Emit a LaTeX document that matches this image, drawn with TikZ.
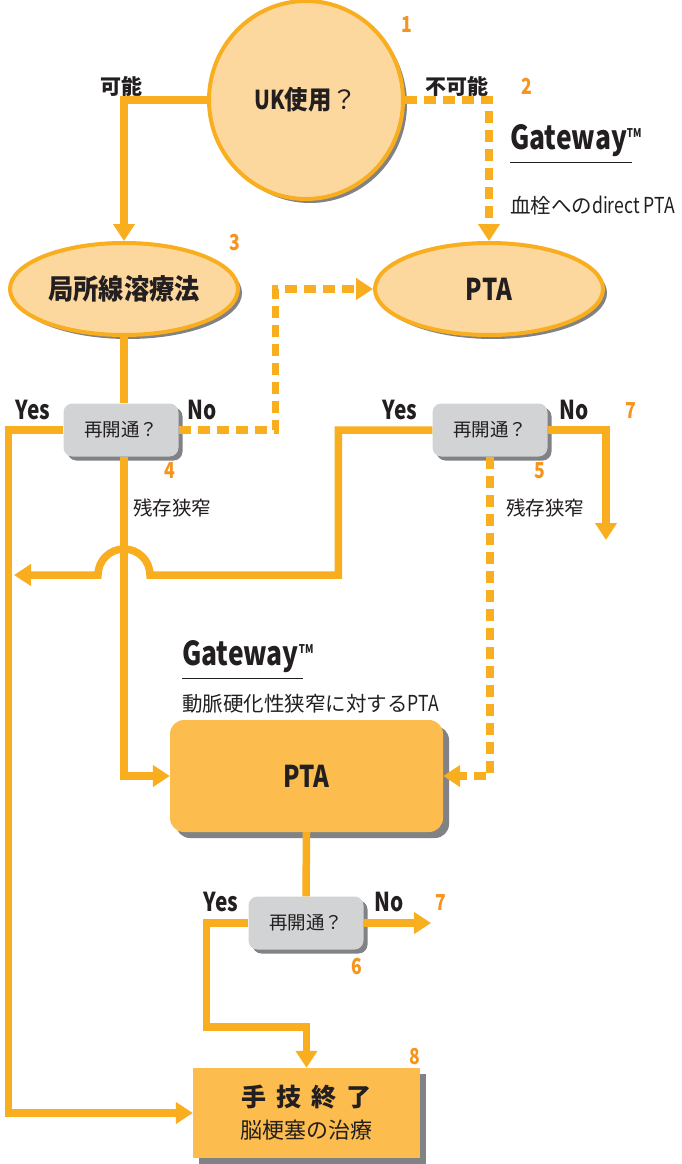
\documentclass[tikz,border=0pt]{standalone}
\usepackage{fontspec}
\setmainfont{Noto Sans CJK JP}
\newfontfamily\cond{Noto Sans CJK JP}[FakeStretch=0.8]
\newfontfamily\semicond{Noto Sans CJK JP}[FakeStretch=0.9]
\usetikzlibrary{shapes.geometric,arrows.meta,shadows}
\definecolor{lineor}{HTML}{F9AE1F}
\definecolor{ellfill}{HTML}{FDD89E}
\definecolor{boxfill}{HTML}{FCBD4E}
\definecolor{qfill}{HTML}{D1D3D4}
\definecolor{shadowgray}{HTML}{808285}
\definecolor{numor}{HTML}{F7941E}
\definecolor{ink}{HTML}{231F20}
\begin{document}
\begin{tikzpicture}[x=1pt,y=-1pt,
  >={Triangle[length=17pt,width=21pt]},
  conn/.style={draw=lineor,line width=7.5pt},
  dconn/.style={conn,dash pattern=on 12pt off 7pt},
  ell/.style={ellipse,draw=lineor,line width=4pt,fill=ellfill,inner sep=0pt,text=ink,
    drop shadow={shadow xshift=4pt,shadow yshift=-4pt,fill=shadowgray,opacity=1}},
  qbox/.style={rectangle,rounded corners=9pt,fill=qfill,minimum width=115pt,minimum height=53pt,
    inner sep=0pt,text=ink,font=\fontsize{18.5}{20}\selectfont,
    drop shadow={shadow xshift=4pt,shadow yshift=-4pt,fill=shadowgray,opacity=1}},
  lab/.style={text=ink,font=\cond\bfseries\fontsize{26}{28}\selectfont,inner sep=0pt},
  jlab/.style={text=ink,font=\bfseries\fontsize{21}{24}\selectfont,inner sep=0pt},
  num/.style={text=numor,font=\cond\bfseries\fontsize{22}{24}\selectfont,inner sep=0pt},
  note/.style={text=ink,font=\fontsize{19.5}{22}\selectfont,inner sep=0pt,anchor=west},
  gnote/.style={note,font=\fontsize{20.5}{22}\selectfont},
  gw/.style={text=ink,font=\cond\bfseries\fontsize{33}{35}\selectfont,inner sep=0pt,anchor=south west}
]
\useasboundingbox (0,0) rectangle (682,1164);
\fill[white] (0,0) rectangle (682,1164);

% nodes
\node[ell,minimum width=194pt,minimum height=198pt,font=\fontsize{26}{28}\selectfont] (uk) at (306,100)
  {{\bfseries\cond UK}{\bfseries\semicond 使用}？};
\node[ell,minimum width=228pt,minimum height=92pt,font=\bfseries\semicond\fontsize{28}{30}\selectfont] (lys) at (124,289) {局所線溶療法};
\node[ell,minimum width=228pt,minimum height=92pt,font=\bfseries\cond\fontsize{30}{32}\selectfont] (pta1) at (489,289) {PTA};
\node[qbox] (q1) at (121,430) {再開通？};
\node[qbox] (q2) at (490,430) {再開通？};
\node[rectangle,rounded corners=14pt,fill=boxfill,minimum width=273pt,minimum height=112pt,
  text=ink,font=\bfseries\cond\fontsize{30}{32}\selectfont,
  drop shadow={shadow xshift=6pt,shadow yshift=-6pt,fill=shadowgray,opacity=1}] (pta2) at (306.5,776) {PTA};
\node[qbox] (q3) at (306,923) {再開通？};
\node[rectangle,fill=boxfill,minimum width=227pt,minimum height=90pt,text=ink,align=center,inner sep=0pt,
  drop shadow={shadow xshift=6pt,shadow yshift=-6pt,fill=shadowgray,opacity=1}] (end) at (306.5,1113)
  {{\bfseries\fontsize{25}{28}\selectfont 手\hspace{10pt}技\hspace{10pt}終\hspace{10pt}了}\\[10pt]
   {\fontsize{22}{24}\selectfont 脳梗塞の治療}};

\coordinate (no2end) at (606,540);
\coordinate (yes2end) at (14,575);
\coordinate (no3end) at (431,923);

% connectors
\draw[conn,->] (uk.west) -| (lys.north);
\draw[dconn,->] (uk.east) -| (pta1.north);
\draw[conn] (lys.south) -- (q1.north -| lys.south);
\draw[dconn,->] (q1.east) -- ++(97,0) |- (pta1.west);
\draw[conn,->] (q1.south -| lys.south) |- (pta2.west);
\draw[conn,->] (q1.west) -- ++(-55,0) |- (end.west);
\draw[conn,->] (q2.west) -- ++(-94,0) -- ++(0,145) -- (150,575)
   arc[start angle=0,end angle=-180,radius=26] -- (yes2end);
\draw[conn,->] (q2.east) -| (no2end);
\draw[dconn,->] (q2.south) |- (pta2.east);
\draw[conn] (pta2.south) -- (q3.north);
\draw[conn,->] (q3.east) -- (no3end);
\draw[conn,->] (q3.west) -- ++(-42,0) |- (306.5,1027) -- (end.north);

% labels
\node[jlab] (l1) at (121,86) {可能};
\node[jlab] (l2) at (457,86) {不可能};
\node[num] (n1) at (407,25) {1};
\node[num] (n2) at (527,86) {2};
\node[num] (n3) at (235,243) {3};
\node[num] (n4) at (170,471) {4};
\node[num] (n5) at (540,471) {5};
\node[num] (n7a) at (631,411) {7};
\node[num] (n6) at (357,967) {6};
\node[num] (n7b) at (441,903) {7};
\node[num] (n8) at (415,1056) {8};
\node[lab] (y1) at (33,410) {Yes};
\node[lab] (no1) at (202,410) {No};
\node[lab] (y2) at (400,410) {Yes};
\node[lab] (no2) at (574,410) {No};
\node[lab] (y3) at (221,902) {Yes};
\node[lab] (no3) at (389,902) {No};
\node[note] (r1) at (133,508) {残存狭窄};
\node[note] (r2) at (506,508) {残存狭窄};

\node[gw] (gw1) at (510,157) {Gateway\raisebox{12pt}{\fontsize{12}{12}\selectfont TM}};
\draw[ink,line width=1pt] (510,162) -- (632,162);
\node[gnote] (gwt1) at (510,206) {血栓への{\cond\fontsize{22}{24}\selectfont direct PTA}};
\node[gw] (gw2) at (182,673) {Gateway\raisebox{12pt}{\fontsize{12}{12}\selectfont TM}};
\draw[ink,line width=1pt] (182,678) -- (303,678);
\node[gnote] (gwt2) at (182,704) {動脈硬化性狭窄に対する{\cond\fontsize{22}{24}\selectfont PTA}};
\end{tikzpicture}
\end{document}
